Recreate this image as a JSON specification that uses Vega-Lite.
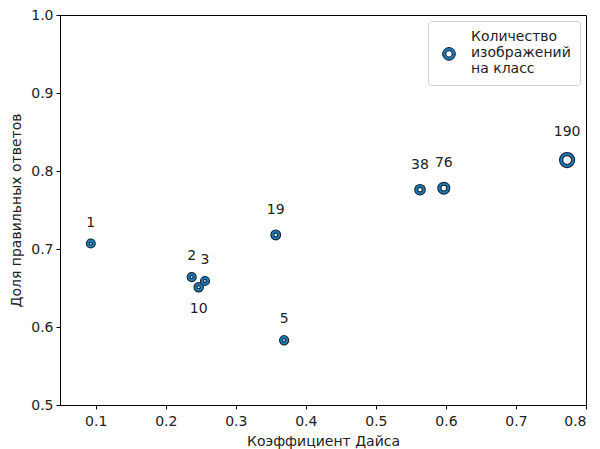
{
  "$schema": "https://vega.github.io/schema/vega-lite/v6.json",
  "width": 526,
  "height": 390,
  "autosize": {"type": "none"},
  "padding": {"left": 60, "top": 15, "right": 14, "bottom": 44},
  "background": "white",
  "config": {
    "font": "DejaVu Sans",
    "view": {"stroke": "black", "strokeWidth": 1},
    "axis": {
      "domainColor": "black",
      "tickColor": "black",
      "labelColor": "#222",
      "titleColor": "#222",
      "labelFontSize": 14,
      "titleFontSize": 14,
      "titleFontWeight": "normal",
      "tickSize": 4,
      "labelPadding": 3,
      "grid": false
    }
  },
  "data": {
    "values": [
      {"dice": 0.093, "acc": 0.707, "n": 1, "series": "Количество изображений на класс"},
      {"dice": 0.237, "acc": 0.664, "n": 2, "series": "Количество изображений на класс"},
      {"dice": 0.256, "acc": 0.659, "n": 3, "series": "Количество изображений на класс"},
      {"dice": 0.247, "acc": 0.651, "n": 10, "series": "Количество изображений на класс"},
      {"dice": 0.369, "acc": 0.583, "n": 5, "series": "Количество изображений на класс"},
      {"dice": 0.357, "acc": 0.718, "n": 19, "series": "Количество изображений на класс"},
      {"dice": 0.563, "acc": 0.776, "n": 38, "series": "Количество изображений на класс"},
      {"dice": 0.597, "acc": 0.778, "n": 76, "series": "Количество изображений на класс"},
      {"dice": 0.773, "acc": 0.814, "n": 190, "series": "Количество изображений на класс"}
    ]
  },
  "encoding": {
    "x": {
      "field": "dice", "type": "quantitative",
      "scale": {"domain": [0.049, 0.8], "nice": false, "zero": false},
      "axis": {"values": [0.1, 0.2, 0.3, 0.4, 0.5, 0.6, 0.7, 0.8], "format": ".1f", "title": "Коэффициент Дайса", "labelPadding": 5, "titlePadding": 6}
    },
    "y": {
      "field": "acc", "type": "quantitative",
      "scale": {"domain": [0.5, 1.0], "nice": false, "zero": false},
      "axis": {"values": [0.5, 0.6, 0.7, 0.8, 0.9, 1.0], "format": ".1f", "title": "Доля правильных ответов", "titlePadding": 7}
    }
  },
  "layer": [
    {
      "mark": {"type": "point", "shape": "circle", "filled": true, "stroke": "#0f1f2d", "strokeWidth": 1, "opacity": 1},
      "encoding": {
        "size": {"field": "n", "type": "quantitative", "scale": {"domain": [0, 190], "range": [34, 144]}, "legend": null},
        "fill": {
          "field": "series", "type": "nominal",
          "scale": {"range": ["#1f77b4"]},
          "legend": {
            "title": null,
            "orient": "top-right",
            "offset": 6,
            "padding": 9,
            "strokeColor": "#d0d0d0",
            "fillColor": "white",
            "cornerRadius": 3,
            "symbolType": "M 0 1.67 C 0.552 1.67 1 2.118 1 2.67 C 1 3.222 0.552 3.67 0 3.67 C -0.552 3.67 -1 3.222 -1 2.67 C -1 2.118 -0.552 1.67 0 1.67 Z M 0 2.17 C -0.276 2.17 -0.5 2.394 -0.5 2.67 C -0.5 2.946 -0.276 3.17 0 3.17 C 0.276 3.17 0.5 2.946 0.5 2.67 C 0.5 2.394 0.276 2.17 0 2.17 Z",
            "symbolSize": 160,
            "symbolStrokeWidth": 1,
            "symbolStrokeColor": "#0f1f2d",
            "symbolOffset": 5,
            "labelFontSize": 14,
            "labelColor": "#222",
            "labelLimit": 200,
            "labelExpr": "['Количество', 'изображений', 'на класс']",
            "labelOffset": 15
          }
        }
      }
    },
    {
      "mark": {"type": "point", "shape": "circle", "filled": false, "fill": "white", "stroke": "#0f1f2d", "strokeWidth": 4.2, "opacity": 1},
      "encoding": {
        "size": {"field": "n", "type": "quantitative", "scale": {"domain": [0, 190], "range": [34, 144]}, "legend": null}
      }
    },
    {
      "mark": {"type": "point", "shape": "circle", "filled": false, "fill": null, "stroke": "#1f77b4", "strokeWidth": 2.2, "opacity": 1},
      "encoding": {
        "size": {"field": "n", "type": "quantitative", "scale": {"domain": [0, 190], "range": [34, 144]}, "legend": null}
      }
    },
    {
      "transform": [{"filter": "datum.n <= 5"}],
      "mark": {"type": "text", "dy": -21, "fontSize": 14, "color": "#222"},
      "encoding": {"text": {"field": "n", "type": "nominal"}}
    },
    {
      "transform": [{"filter": "datum.n >= 19 && datum.n <= 76"}],
      "mark": {"type": "text", "dy": -25, "fontSize": 14, "color": "#222"},
      "encoding": {"text": {"field": "n", "type": "nominal"}}
    },
    {
      "transform": [{"filter": "datum.n == 190"}],
      "mark": {"type": "text", "dy": -28, "fontSize": 14, "color": "#222"},
      "encoding": {"text": {"field": "n", "type": "nominal"}}
    },
    {
      "transform": [{"filter": "datum.n == 10"}],
      "mark": {"type": "text", "dy": 22, "fontSize": 14, "color": "#222"},
      "encoding": {"text": {"field": "n", "type": "nominal"}}
    }
  ]
}
